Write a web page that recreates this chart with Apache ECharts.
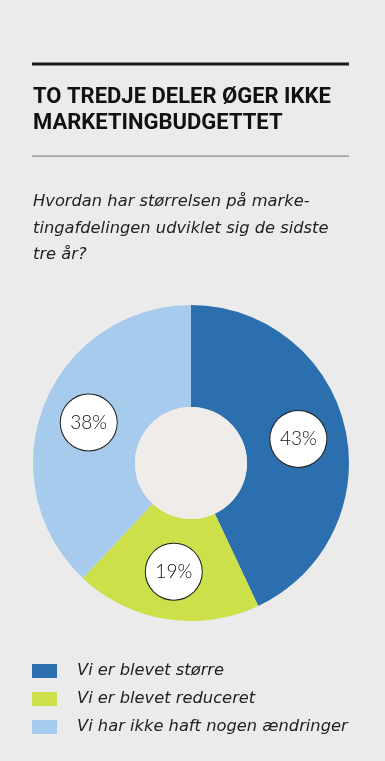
<!DOCTYPE html>
<html>
<head>
<meta charset="utf-8">
<script src="https://cdn.jsdelivr.net/npm/echarts@6/dist/echarts.min.js"></script>
<style>
html,body{margin:0;padding:0;background:#ebebeb;}
#c{width:385px;height:761px;}
</style>
</head>
<body>
<div id="c"></div>
<script>
const titleLines = ['TO TREDJE DELER ØGER IKKE', 'MARKETINGBUDGETTET'];
const questionLines = ['Hvordan har størrelsen på marke-', 'tingafdelingen udviklet sig de sidste', 'tre år?'];
const categories = ['Vi er blevet større', 'Vi er blevet reduceret', 'Vi har ikke haft nogen ændringer'];
const values = [43, 19, 38];
const colors = ['#2b6fae', '#cde04a', '#a7cbec'];

const chart = echarts.init(document.getElementById('c'), null, {renderer: 'canvas'});
chart.setOption({
  backgroundColor: '#ebebeb',
  animation: false,
  title: [
    {
      text: titleLines.join('\n'),
      left: 33, top: 84, padding: 0,
      textStyle: {fontFamily: 'Roboto', fontWeight: 'bold', fontSize: 22, color: '#111', lineHeight: 26.5}
    },
    {
      text: questionLines.join('\n'),
      left: 33, top: 189, padding: 0,
      textStyle: {fontFamily: 'DejaVu Sans', fontStyle: 'italic', fontWeight: 'normal', fontSize: 16.3, color: '#222', lineHeight: 26.5}
    }
  ],
  graphic: [
    {type: 'rect', shape: {x: 32, y: 62.5, width: 317, height: 3}, style: {fill: '#1a1a1a'}, silent: true},
    {type: 'rect', shape: {x: 32, y: 155.5, width: 317, height: 1.2}, style: {fill: '#8a8a8a'}, silent: true}
  ],
  legend: {
    orient: 'vertical',
    left: 32, top: 663, padding: 0,
    itemWidth: 25, itemHeight: 14, itemGap: 12,
    icon: 'rect',
    data: categories,
    textStyle: {fontFamily: 'DejaVu Sans', fontStyle: 'italic', fontSize: 16.3, color: '#222', padding: [0, 0, 0, 15]},
    selectedMode: false
  },
  series: [
    {
      type: 'pie',
      center: [191, 463],
      radius: [56, 158],
      startAngle: 90,
      clockwise: true,
      silent: true,
      labelLine: {show: false},
      label: {
        show: true,
        position: 'inside',
        formatter: '{c}%',
        fontFamily: 'Lato',
        fontWeight: 300,
        fontSize: 19,
        color: '#111',
        backgroundColor: '#fff',
        borderColor: '#222',
        borderWidth: 1,
        borderRadius: 28,
        width: 56, height: 56, lineHeight: 56,
        align: 'center', verticalAlign: 'middle'
      },
      itemStyle: {borderWidth: 0},
      data: categories.map((n, i) => ({name: n, value: values[i], itemStyle: {color: colors[i]}}))
    },
    {
      type: 'pie',
      center: [191, 463],
      radius: [0, 56],
      silent: true,
      label: {show: false},
      labelLine: {show: false},
      data: [{name: 'hole', value: 1, itemStyle: {color: '#efecea'}}]
    }
  ]
});
</script>
</body>
</html>
